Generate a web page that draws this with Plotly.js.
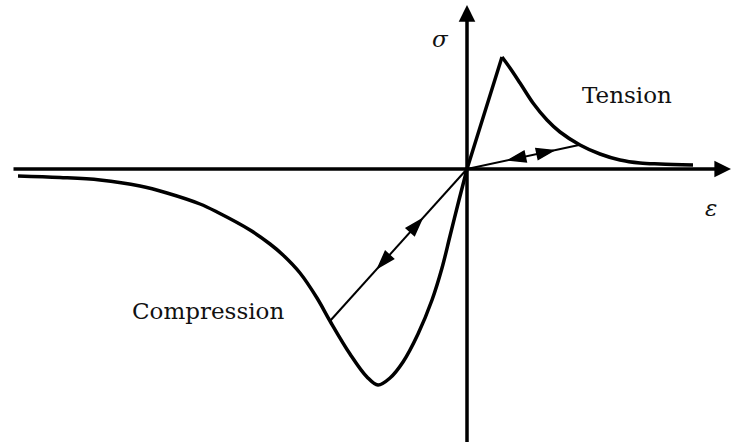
<!DOCTYPE html>
<html>
<head>
<meta charset="utf-8">
<script src="https://cdn.plot.ly/plotly-3.0.1.min.js"></script>
<style>
  html, body { margin: 0; padding: 0; background: #ffffff; }
  #chart { width: 732px; height: 442px; }
</style>
</head>
<body>
<div id="chart"></div>
<script>
// Tension branch: linear rise to the peak, then softening tail
const tensionRiseStrain = [0, 0.35];
const tensionRiseStress = [0, 1.12];
const tensionSoftStrain = [0.35, 0.43, 0.53, 0.66, 0.80, 0.93, 1.13, 1.33, 1.53, 1.73, 1.93, 2.26];
const tensionSoftStress = [1.12, 1.01, 0.86, 0.66, 0.49, 0.37, 0.24, 0.15, 0.09, 0.06, 0.05, 0.04];

// Compression branch (from far post-peak back to the origin)
const compStrain = [-4.49, -4.07, -3.67, -3.27, -3.00, -2.67, -2.50, -2.17, -1.97, -1.84, -1.67, -1.50,
                    -1.37, -1.17, -1.00, -0.89, -0.77, -0.64, -0.49, -0.35, -0.25, -0.17, -0.08, 0];
const compStress = [-0.07, -0.085, -0.11, -0.17, -0.24, -0.35, -0.43, -0.61, -0.75, -0.86, -1.04, -1.29,
                    -1.52, -1.85, -2.08, -2.16, -2.09, -1.93, -1.65, -1.31, -0.99, -0.67, -0.31, 0];

// Unloading / reloading paths through the origin
const tensionUnloadStrain = [0, 1.12];
const tensionUnloadStress = [0, 0.24];
const compUnloadStrain = [0, -1.37];
const compUnloadStress = [0, -1.52];

// Arrowheads along each unloading path: position (fraction of the path) and
// direction (+1 points away from the origin, -1 points toward it)
const tensionArrowAt = [0.37, 0.775];
const tensionArrowDir = [-1, 1];
const compArrowAt = [0.33, 0.65];
const compArrowDir = [-1, 1];

// Axis extents and labels
const strainAxisExtent = [-4.55, 2.64];
const stressAxisExtent = [-2.80, 1.64];
const axisLabels = { stress: 'σ', strain: 'ε' };
const regionLabels = ['Tension', 'Compression'];

const ink = '#000000';
const textFont = { family: 'DejaVu Serif, serif', size: 23, color: '#111111' };

function curve(x, y, width, shape) {
  return {
    type: 'scatter', mode: 'lines', x: x, y: y, hoverinfo: 'skip',
    line: { color: ink, width: width, shape: shape || 'linear', smoothing: 1 }
  };
}

function arrowHeads(pathX, pathY, fracs, dirs) {
  const ex = pathX[1], ey = pathY[1];
  return fracs.map(function (f, i) {
    const back = f - dirs[i] * 0.05;
    return {
      type: 'scatter', mode: 'markers', hoverinfo: 'skip',
      x: [back * ex, f * ex], y: [back * ey, f * ey],
      marker: { symbol: 'arrow', size: [0, 18], color: ink, opacity: 1,
                angleref: 'previous', line: { width: 1.5, color: ink } }
    };
  });
}

const traces = [
  curve(tensionRiseStrain, tensionRiseStress, 3.5),
  curve(tensionSoftStrain, tensionSoftStress, 3.5, 'spline'),
  curve(compStrain, compStress, 3.5, 'spline'),
  curve(tensionUnloadStrain, tensionUnloadStress, 2),
  curve(compUnloadStrain, compUnloadStress, 2)
].concat(
  arrowHeads(tensionUnloadStrain, tensionUnloadStress, tensionArrowAt, tensionArrowDir),
  arrowHeads(compUnloadStrain, compUnloadStress, compArrowAt, compArrowDir)
);

function axisArrow(x0, y0, x1, y1) {
  return {
    xref: 'x', yref: 'y', axref: 'x', ayref: 'y',
    x: x1, y: y1, ax: x0, ay: y0, text: '',
    showarrow: true, arrowhead: 2, arrowsize: 0.95, arrowwidth: 3.5, arrowcolor: ink
  };
}

function label(text, x, y, italic) {
  return {
    xref: 'x', yref: 'y', x: x, y: y, text: italic ? '<i>' + text + '</i>' : text,
    showarrow: false, xanchor: 'center', yanchor: 'middle', font: textFont
  };
}

const layout = {
  width: 732, height: 442,
  margin: { l: 0, r: 0, t: 0, b: 0 },
  paper_bgcolor: '#ffffff', plot_bgcolor: '#ffffff',
  showlegend: false,
  xaxis: { range: [-4.67, 2.65], visible: false, fixedrange: true },
  yaxis: { range: [-2.73, 1.69], visible: false, fixedrange: true },
  annotations: [
    axisArrow(strainAxisExtent[0], 0, strainAxisExtent[1], 0),
    axisArrow(0, stressAxisExtent[0], 0, stressAxisExtent[1]),
    label(axisLabels.stress, -0.27, 1.30, true),
    label(axisLabels.strain, 2.44, -0.39, true),
    label(regionLabels[0], 1.595, 0.74, false),
    label(regionLabels[1], -2.59, -1.42, false)
  ]
};

Plotly.newPlot('chart', traces, layout, { staticPlot: true, displayModeBar: false });
</script>
</body>
</html>
